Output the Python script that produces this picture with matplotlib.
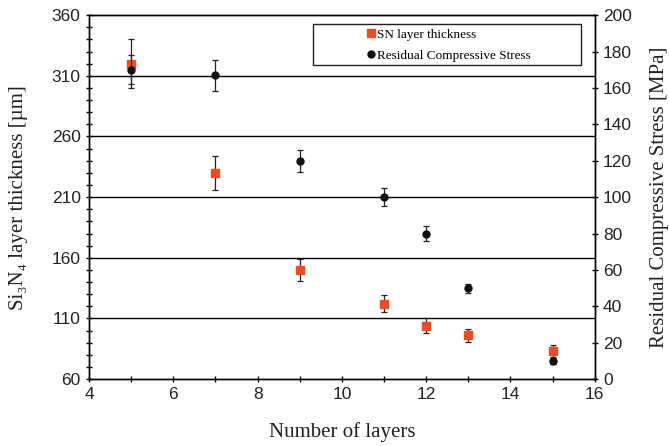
import numpy as np
import matplotlib
matplotlib.use("Agg")
import matplotlib.pyplot as plt
from matplotlib.patches import Rectangle
from matplotlib.lines import Line2D
from matplotlib.ticker import MultipleLocator, FixedLocator

# ------------------------------------------------------------
# Data
# ------------------------------------------------------------
layers_sn = [5, 7, 9, 11, 12, 13, 15]
thickness = [320, 230, 150, 122, 104, 96, 83]          # um
thickness_err = [20, 14, 9, 7, 6, 5.5, 5]

layers_rs = [5, 7, 9, 11, 12, 13, 15]
stress = [170, 167, 120, 100, 80, 50, 10]              # MPa
stress_err = [8, 8.5, 6, 5, 4, 2.5, 1.5]

left_ticks = [60, 110, 160, 210, 260, 310, 360]
grid_levels = [110, 160, 210, 260, 310]

# ------------------------------------------------------------
# Style
# ------------------------------------------------------------
sans = ["Liberation Sans", "DejaVu Sans"]
serif = ["Liberation Serif", "DejaVu Serif"]
sn_color = "#EE4B22"

fig = plt.figure(figsize=(6.69, 4.46), dpi=100)
ax = fig.add_axes([0.133, 0.150, 0.756, 0.816])
ax2 = ax.twinx()

for a in (ax, ax2):
    for sp in a.spines.values():
        sp.set_linewidth(1.0)

# horizontal grid lines (left-axis units)
for g in grid_levels:
    ax.axhline(g, color="black", lw=1.0, zorder=1)

ax.errorbar(layers_sn, thickness, yerr=thickness_err, fmt="s", ms=6,
            color=sn_color, ecolor="#222222", elinewidth=0.9, capsize=2.0,
            capthick=0.9, zorder=3)
ax2.errorbar(layers_rs, stress, yerr=stress_err, fmt="o", ms=5,
             color="#111111", ecolor="#222222", elinewidth=0.9, capsize=2.0,
             capthick=0.9, zorder=3)

ax.set_xlim(4, 16)
ax.set_ylim(60, 360)
ax2.set_ylim(0, 200)

ax.xaxis.set_major_locator(MultipleLocator(2))
ax.xaxis.set_minor_locator(MultipleLocator(1))
ax.yaxis.set_major_locator(FixedLocator(left_ticks))
ax.yaxis.set_minor_locator(MultipleLocator(10))
ax2.yaxis.set_major_locator(MultipleLocator(20))

ax.tick_params(axis="both", which="both", direction="inout", length=5,
               width=1.0, top=False, right=False)
ax2.tick_params(axis="y", which="both", direction="inout", length=5, width=1.0)

for lbl in ax.get_xticklabels() + ax.get_yticklabels() + ax2.get_yticklabels():
    lbl.set_family(sans)
    lbl.set_fontsize(12.5)
    lbl.set_color("#222222")

ax.set_xlabel("Number of layers", family=serif, fontsize=15, color="#222222")
ax.set_ylabel("Si\u2083N\u2084 layer thickness [\u00b5m]", family=serif,
              fontsize=15, color="#222222")
ax2.set_ylabel("Residual Compressive Stress [MPa]", family=serif,
               fontsize=15, color="#222222")
ax.xaxis.set_label_coords(0.5, -0.118)
ax.yaxis.set_label_coords(-0.121, 0.5)
ax2.yaxis.set_label_coords(1.109, 0.5)

# legend box (wide frame) with frameless legend inside
ax.add_patch(Rectangle((0.443, 0.862), 0.529, 0.114, transform=ax.transAxes,
                       fill=False, edgecolor="#222222", lw=1.0, zorder=4))
handles = [
    Line2D([], [], ls="none", marker="s", ms=6, color=sn_color),
    Line2D([], [], ls="none", marker="o", ms=5, color="#111111"),
]
ax2.legend(handles, ["SN layer thickness", "Residual Compressive Stress"],
           loc="center", bbox_to_anchor=(0.712, 0.918), frameon=False,
           prop={"family": serif, "size": 9.5}, handlelength=0.6,
           handletextpad=0.2, labelspacing=0.65, borderpad=0.0)

fig.savefig("out.png", dpi=100)
